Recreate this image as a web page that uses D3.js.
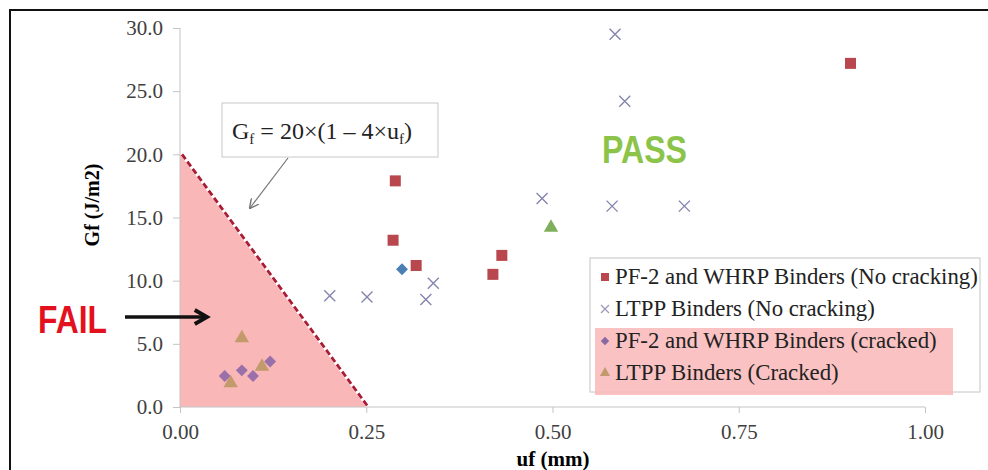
<!DOCTYPE html>
<html lang="en">
  <head>
    <meta charset="UTF-8" />
    <title>Gf vs uf</title>
    <style>
      body { margin: 0; background: #fff; }
    </style>
  </head>
  <body>
    <svg id="svg" width="988" height="470"></svg>

    <script src="https://d3js.org/d3.v7.min.js"></script>
    <script>
      // series: [uf (mm), Gf (J/m2)]
      const pfNoCrack = [[0.289, 17.9], [0.286, 13.2], [0.317, 11.2], [0.42, 10.5], [0.432, 12.0], [0.9, 27.2]];
      const ltppNoCrack = [[0.584, 29.5], [0.597, 24.2], [0.486, 16.5], [0.58, 15.9], [0.677, 15.9],
        [0.201, 8.8], [0.251, 8.7], [0.34, 9.8], [0.33, 8.5]];
      const pfCracked = [[0.06, 2.45], [0.083, 2.9], [0.098, 2.45], [0.121, 3.6]];
      const ltppCracked = [[0.083, 5.45], [0.068, 1.9], [0.11, 3.2]];
      const blueExtra = [[0.298, 10.9]];
      const greenExtra = [[0.498, 14.2]];
      // failure criterion Gf = 20*(1 - 4*uf)
      const criterion = [[0, 20], [0.25, 0]];

      const xTicks = [0, 0.25, 0.5, 0.75, 1.0];
      const yTicks = [0, 5, 10, 15, 20, 25, 30];
      const legendLabels = [
        "PF-2 and WHRP Binders (No cracking)",
        "LTPP Binders (No cracking)",
        "PF-2 and WHRP Binders (cracked)",
        "LTPP Binders (Cracked)"
      ];

      const serif = '"Liberation Serif", "Times New Roman", serif';
      const cond = '"Liberation Sans Narrow", "Arial Narrow", "Liberation Sans", sans-serif';

      const svg = d3.select("#svg");
      const x = d3.scaleLinear().domain([0, 1]).range([180, 925]);
      const y = d3.scaleLinear().domain([0, 30]).range([407, 28]);

      // outer frame (only left/top edges visible)
      svg.append("rect").attr("x", 10).attr("y", 10).attr("width", 1000).attr("height", 500)
        .attr("fill", "none").attr("stroke", "#111").attr("stroke-width", 2);

      // fail zone
      svg.append("path")
        .attr("d", d3.line().x(d => x(d[0])).y(d => y(d[1]))([[0, 0], ...criterion, [0, 0]]))
        .attr("fill", "#f9b7b8");
      svg.append("path")
        .attr("d", d3.line().x(d => x(d[0]) + 2).y(d => y(d[1]))(criterion))
        .attr("stroke", "#a81c36").attr("stroke-width", 2.8).attr("stroke-dasharray", "6,3")
        .attr("fill", "none");

      // axes
      const yAxis = svg.append("g").attr("transform", `translate(${x(0)},0)`)
        .call(d3.axisLeft(y).tickValues(yTicks).tickFormat(d3.format(".1f")).tickSize(7));
      const xAxis = svg.append("g").attr("transform", `translate(0,${y(0)})`)
        .call(d3.axisBottom(x).tickValues(xTicks).tickFormat(d3.format(".2f")).tickSize(6));
      [xAxis, yAxis].forEach(a => {
        a.attr("font-family", null);
        a.selectAll("path, line").attr("stroke", "#c4c4c4");
        a.selectAll("text").attr("fill", "#404040").style("font-size", "21px").style("font-family", serif);
      });
      yAxis.select(".domain").attr("d", `M0,${y(30)}V${y(0)}`);
      xAxis.select(".domain").attr("d", `M${x(0)},0H${x(1)}`);
      yAxis.selectAll("text").attr("x", -17);
      xAxis.selectAll("text").attr("y", 17);

      svg.append("text").attr("transform", "translate(99,205) rotate(-90)")
        .attr("text-anchor", "middle").style("font-family", serif).style("font-size", "20px").style("font-weight", "bold")
        .text("Gf (J/m2)");
      svg.append("text").attr("x", 553).attr("y", 466)
        .attr("text-anchor", "middle").style("font-family", serif).style("font-size", "21px").style("font-weight", "bold")
        .text("uf  (mm)");

      // markers
      const sx = d => x(d[0]), sy = d => y(d[1]);
      function squares(g, data, color, s) {
        g.selectAll(null).data(data).enter().append("rect")
          .attr("x", d => sx(d) - s / 2).attr("y", d => sy(d) - s / 2)
          .attr("width", s).attr("height", s).attr("fill", color);
      }
      function crosses(g, data, color, s, w) {
        g.selectAll(null).data(data).enter().append("path")
          .attr("d", d => `M${sx(d) - s / 2},${sy(d) - s / 2}l${s},${s}M${sx(d) - s / 2},${sy(d) + s / 2}l${s},${-s}`)
          .attr("stroke", color).attr("stroke-width", w);
      }
      function symbols(g, data, type, size, color) {
        g.selectAll(null).data(data).enter().append("path")
          .attr("transform", d => `translate(${sx(d)},${sy(d)})`)
          .attr("d", d3.symbol().type(type).size(size)).attr("fill", color);
      }
      const marks = svg.append("g");
      squares(marks, pfNoCrack, "#b8484d", 11);
      crosses(marks, ltppNoCrack, "#8585ad", 11, 1.4);
      symbols(marks, pfCracked, d3.symbolDiamond2, 90, "#9a70aa");
      symbols(marks, ltppCracked, d3.symbolTriangle, 90, "#c39a6c");
      symbols(marks, blueExtra, d3.symbolDiamond2, 90, "#4a7fb5");
      symbols(marks, greenExtra, d3.symbolTriangle, 90, "#7fae5c");

      // equation box + pointer
      svg.append("rect").attr("x", 222).attr("y", 103).attr("width", 216).attr("height", 54)
        .attr("fill", "#fff").attr("stroke", "#c8c8c8");
      const eq = svg.append("text").attr("x", 232).attr("y", 139)
        .style("font-family", serif).style("font-size", "24px").attr("fill", "#222");
      eq.append("tspan").text("G");
      eq.append("tspan").attr("dy", 5).style("font-size", "15px").text("f");
      eq.append("tspan").attr("dy", -5).text(" = 20×(1 – 4×u");
      eq.append("tspan").attr("dy", 5).style("font-size", "15px").text("f");
      eq.append("tspan").attr("dy", -5).text(")");

      const defs = svg.append("defs");
      defs.append("marker").attr("id", "thin").attr("viewBox", "0 0 10 10").attr("refX", 9).attr("refY", 5)
        .attr("markerWidth", 8).attr("markerHeight", 8).attr("orient", "auto")
        .append("path").attr("d", "M0,0L10,5L0,10").attr("fill", "none").attr("stroke", "#777").attr("stroke-width", 1.5);
      defs.append("marker").attr("id", "bold").attr("viewBox", "0 0 10 10").attr("refX", 8).attr("refY", 5)
        .attr("markerWidth", 5).attr("markerHeight", 5).attr("orient", "auto")
        .append("path").attr("d", "M1,1L8,5L1,9").attr("fill", "none").attr("stroke", "#111").attr("stroke-width", 2.2);
      svg.append("line").attr("x1", 288).attr("y1", 158).attr("x2", 250).attr("y2", 208)
        .attr("stroke", "#777").attr("stroke-width", 1.2).attr("marker-end", "url(#thin)");

      // FAIL / PASS labels
      svg.append("text").attr("x", 38).attr("y", 333)
        .attr("textLength", 69).attr("lengthAdjust", "spacingAndGlyphs")
        .style("font-family", cond).style("font-weight", "bold").style("font-size", "38px")
        .attr("fill", "#e3101e").text("FAIL");
      svg.append("line").attr("x1", 125).attr("y1", 317).attr("x2", 207).attr("y2", 317)
        .attr("stroke", "#111").attr("stroke-width", 3.5).attr("marker-end", "url(#bold)");
      svg.append("text").attr("x", 602).attr("y", 163)
        .attr("textLength", 85).attr("lengthAdjust", "spacingAndGlyphs")
        .style("font-family", cond).style("font-weight", "bold").style("font-size", "38px")
        .attr("fill", "#8cc44a").text("PASS");

      // legend
      const lg = svg.append("g");
      lg.append("rect").attr("x", 590).attr("y", 258).attr("width", 390).attr("height", 134)
        .attr("fill", "#fff").attr("stroke", "#c4c4c4");
      lg.append("rect").attr("x", 595).attr("y", 328).attr("width", 358).attr("height", 67)
        .attr("fill", "#f9b7b8").attr("opacity", 0.85);
      const rowY = [277, 309, 341, 373];
      const lx = 605;
      const toData = i => [[x.invert(lx), y.invert(rowY[i])]];
      squares(lg, toData(0), "#b8484d", 8);
      crosses(lg, toData(1), "#9a9ab8", 8, 1.2);
      symbols(lg, toData(2), d3.symbolDiamond2, 45, "#8a68a0");
      symbols(lg, toData(3), d3.symbolTriangle, 45, "#c39a6c");
      lg.selectAll(null).data(legendLabels).enter().append("text")
        .attr("x", 615).attr("y", (d, i) => rowY[i] + 7)
        .style("font-family", serif).style("font-size", "22.8px")
        .attr("fill", "#222").text(d => d);
    </script>
  </body>
</html>
